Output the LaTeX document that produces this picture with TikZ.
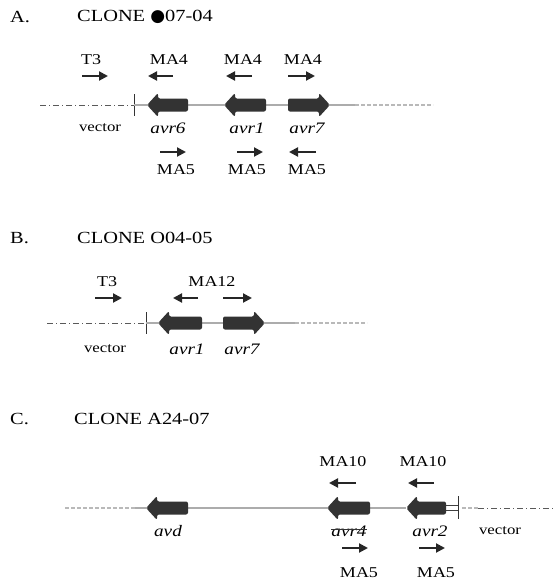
\documentclass[tikz,border=0pt]{standalone}
\usepackage{fontspec}
\setmainfont{Liberation Serif}[FakeStretch=1.2]
\newfontfamily\symfont{DejaVu Sans}
\usetikzlibrary{arrows.meta}

\tikzset{
  backbone/.style={draw=gray!65,line width=1.6pt},
  dashpart/.style={draw=gray!55,line width=1.6pt,dash pattern=on 4pt off 2pt},
  vectorline/.style={draw=black!65,line width=1pt,dash pattern=on 6pt off 3pt on 1pt off 3pt},
  tickmark/.style={draw=black!80,line width=1pt},
  primer/.style={draw=black!85,line width=2pt,-{Triangle[length=9pt,width=9pt]}},
  genefill/.style={fill=black!80,rounded corners=2pt},
  paneltitle/.style={anchor=west,inner sep=0pt,font=\fontsize{17}{19}\selectfont},
  lbl/.style={inner sep=0pt,font=\fontsize{15}{17}\selectfont},
  vec/.style={inner sep=0pt,font=\fontsize{14}{16}\selectfont},
  genename/.style={inner sep=0pt,font=\fontsize{16}{18}\selectfont\itshape}
}
\newcommand{\geneleft}[3]{\fill[genefill] (#1,#3) -- (#1+11,#3-12) -- (#1+11,#3-6.5) -- (#2,#3-6.5) -- (#2,#3+6.5) -- (#1+11,#3+6.5) -- (#1+11,#3+12) -- cycle;}
\newcommand{\generight}[3]{\fill[genefill] (#2,#3) -- (#2-11,#3-12) -- (#2-11,#3-6.5) -- (#1,#3-6.5) -- (#1,#3+6.5) -- (#2-11,#3+6.5) -- (#2-11,#3+12) -- cycle;}

\begin{document}
\begin{tikzpicture}[x=1pt,y=-1pt]
\useasboundingbox (0,0) rectangle (554,582);

% A
\node[paneltitle] (atag) at (10,17) {A.};
\node[paneltitle] (atitle) at (77,17) {CLONE {\symfont\char"25CF}07-04};
\node[lbl] (at3) at (91,60) {T3};
\node[lbl] (amafoura) at (169,60) {MA4};
\node[lbl] (amafourb) at (243,60) {MA4};
\node[lbl] (amafourc) at (303,60) {MA4};
\draw[primer] (82,76) -- (108,76);
\draw[primer] (173,76) -- (148,76);
\draw[primer] (252,76) -- (226,76);
\draw[primer] (288,76) -- (315,76);
\draw[vectorline] (40,105) -- (134,105);
\draw[tickmark] (134,94) -- (134,116);
\draw[backbone] (134,105) -- (355,105);
\draw[dashpart] (355,105) -- (433,105);
\geneleft{147}{188}{105}
\geneleft{224}{266}{105}
\generight{288}{330}{105}
\node[vec] (avector) at (100,128) {vector};
\node[genename] (aavrsix) at (168,128) {avr6};
\node[genename] (aavrone) at (247,128) {avr1};
\node[genename] (aavrseven) at (307,128) {avr7};
\draw[primer] (160,152) -- (186,152);
\draw[primer] (237,152) -- (263,152);
\draw[primer] (316,152) -- (289,152);
\node[lbl] (amafivea) at (176,170) {MA5};
\node[lbl] (amafiveb) at (247,170) {MA5};
\node[lbl] (amafivec) at (307,170) {MA5};

% B
\node[paneltitle] (btag) at (10,238) {B.};
\node[paneltitle] (btitle) at (77,238) {CLONE O04-05};
\node[lbl] (bt3) at (107,282) {T3};
\node[lbl] (bmatwelve) at (212,282) {MA12};
\draw[primer] (95,298) -- (122,298);
\draw[primer] (198,298) -- (173,298);
\draw[primer] (223,298) -- (252,298);
\draw[vectorline] (47,323) -- (146,323);
\draw[tickmark] (146,312) -- (146,334);
\draw[backbone] (146,323) -- (295,323);
\draw[dashpart] (295,323) -- (367,323);
\geneleft{158}{202}{323}
\generight{223}{265}{323}
\node[vec] (bvector) at (105,349) {vector};
\node[genename] (bavrone) at (187,349) {avr1};
\node[genename] (bavrseven) at (242,349) {avr7};

% C
\node[paneltitle] (ctag) at (10,419) {C.};
\node[paneltitle] (ctitle) at (74,419) {CLONE A24-07};
\node[lbl] (cmatena) at (343,462) {MA10};
\node[lbl] (cmatenb) at (423,462) {MA10};
\draw[primer] (356,483) -- (329,483);
\draw[primer] (434,483) -- (408,483);
\draw[dashpart] (65,508) -- (135,508);
\draw[backbone] (135,508) -- (406,508);
\draw[black!75,line width=0.8pt] (440,505.5) -- (458,505.5) (440,510.5) -- (458,510.5);
\draw[tickmark] (458,496) -- (458,519);
\draw[dashpart] (462,508) -- (478,508);
\draw[vectorline] (478,508) -- (554,508);
\geneleft{146}{188}{508}
\geneleft{327}{370}{508}
\geneleft{406}{446}{508}
\node[genename] (cavd) at (168,531) {avd};
\node[genename] (cavrfour) at (349,531) {avr4};
\draw[black!80,line width=0.9pt] ([yshift=2pt]cavrfour.west) -- ([yshift=2pt]cavrfour.east);
\node[genename] (cavrtwo) at (430,531) {avr2};
\node[vec] (cvector) at (500,531) {vector};
\draw[primer] (342,548) -- (368,548);
\draw[primer] (419,548) -- (445,548);
\node[lbl] (cmafivea) at (359,573) {MA5};
\node[lbl] (cmafiveb) at (436,573) {MA5};
\end{tikzpicture}
\end{document}
